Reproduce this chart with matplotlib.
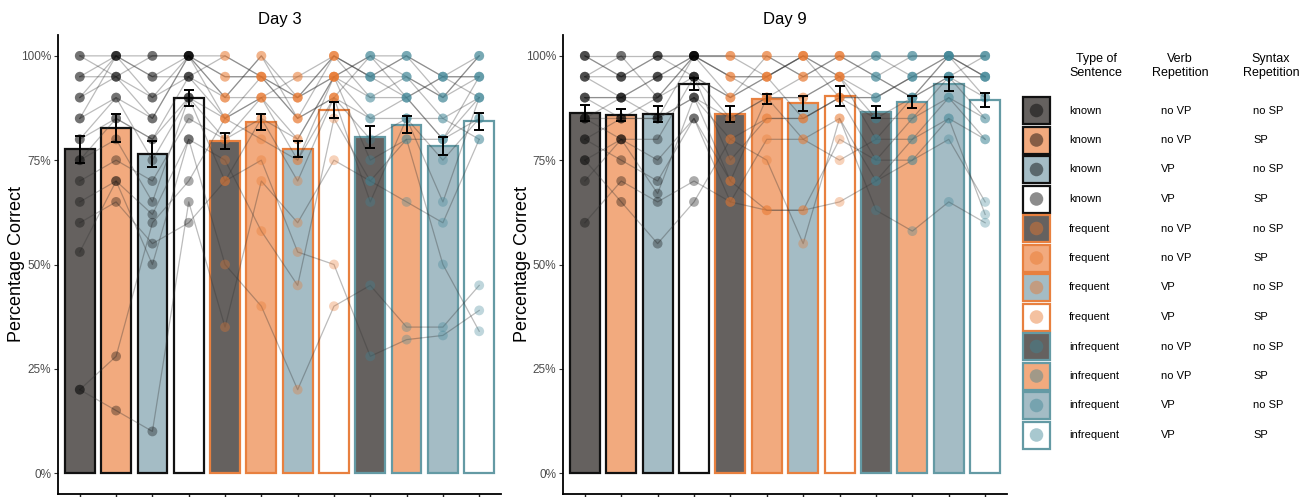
import matplotlib.pyplot as plt
from matplotlib.patches import Rectangle
import numpy as np

plt.rcParams['font.family'] = ['Liberation Sans', 'DejaVu Sans']

# conditions (bar order)
sentence_type = ['known'] * 4 + ['frequent'] * 4 + ['infrequent'] * 4
verb_rep = ['no VP', 'no VP', 'VP', 'VP'] * 3
syntax_rep = ['no SP', 'SP', 'no SP', 'SP'] * 3

# bar means and standard errors (% correct)
day3_mean = [77.6, 82.7, 76.5, 90.0, 79.5, 84.2, 77.7, 87.0, 80.5, 83.5, 78.4, 84.3]
day3_se = [3.2, 3.4, 3.2, 1.9, 1.9, 1.9, 1.9, 1.9, 2.7, 2.0, 2.1, 2.1]
day9_mean = [86.3, 85.8, 86.0, 93.2, 86.0, 89.7, 88.6, 90.4, 86.5, 88.9, 93.3, 89.4]
day9_se = [1.9, 1.35, 1.9, 1.5, 1.9, 1.2, 1.7, 2.3, 1.5, 1.4, 1.7, 1.75]

# single participants, one row per participant, one value per condition
day3_subjects = [
    [20, 28, 60, 70, 85, 90, 75, 95, 100, 90, 80, 85],
    [20, 15, 10, 65, 35, 70, 60, 75, 70, 65, 60, 80],
    [53, 70, 50, 80, 50, 40, 20, 40, 45, 35, 35, 45],
    [60, 65, 55, 60, 70, 75, 53, 50, 28, 32, 33, 39],
    [65, 70, 62, 80, 75, 58, 45, 85, 70, 80, 50, 34],
    [70, 75, 70, 85, 80, 85, 70, 90, 80, 85, 65, 90],
    [75, 80, 65, 90, 80, 90, 80, 95, 85, 85, 75, 85],
    [80, 85, 80, 95, 85, 95, 85, 100, 90, 90, 80, 95],
    [85, 90, 85, 100, 90, 90, 90, 95, 95, 95, 90, 100],
    [85, 100, 90, 95, 100, 95, 90, 100, 95, 100, 95, 90],
    [90, 95, 85, 100, 90, 100, 85, 90, 100, 95, 90, 95],
    [90, 100, 95, 100, 95, 95, 90, 100, 95, 90, 95, 100],
    [95, 95, 100, 100, 85, 90, 95, 95, 100, 100, 95, 95],
    [95, 100, 95, 95, 90, 100, 90, 95, 90, 95, 85, 90],
    [100, 95, 90, 100, 95, 95, 85, 90, 85, 90, 95, 95],
    [100, 100, 100, 100, 100, 95, 95, 100, 95, 100, 90, 100],
    [80, 90, 75, 90, 70, 85, 80, 95, 75, 80, 80, 90],
    [75, 85, 80, 90, 85, 80, 75, 90, 65, 85, 85, 80],
]
day9_subjects = [
    [60, 70, 65, 70, 65, 63, 63, 65, 70, 75, 80, 65],
    [75, 65, 55, 65, 80, 75, 55, 85, 63, 58, 65, 60],
    [75, 80, 67, 90, 70, 63, 63, 80, 75, 75, 85, 62],
    [80, 75, 70, 85, 65, 80, 80, 75, 80, 80, 90, 80],
    [85, 80, 80, 95, 75, 85, 85, 90, 85, 85, 95, 85],
    [85, 85, 85, 90, 85, 90, 90, 95, 80, 90, 100, 90],
    [90, 90, 90, 100, 90, 95, 85, 90, 90, 95, 95, 95],
    [90, 85, 90, 95, 85, 90, 95, 95, 95, 90, 100, 100],
    [95, 90, 95, 100, 95, 95, 100, 90, 90, 95, 95, 100],
    [95, 100, 90, 100, 100, 100, 95, 100, 95, 100, 100, 95],
    [100, 95, 95, 100, 95, 95, 100, 95, 100, 95, 100, 100],
    [100, 100, 100, 100, 100, 100, 100, 100, 100, 100, 100, 100],
    [95, 95, 100, 95, 90, 100, 95, 100, 95, 90, 95, 95],
    [90, 90, 85, 100, 95, 90, 90, 95, 85, 90, 95, 90],
    [85, 90, 95, 95, 90, 95, 100, 95, 90, 95, 100, 95],
    [80, 85, 85, 90, 80, 85, 85, 90, 75, 85, 90, 85],
    [70, 80, 75, 85, 70, 90, 80, 85, 70, 80, 85, 80],
    [100, 95, 100, 100, 100, 95, 100, 100, 100, 100, 100, 95],
]

fill_by_rep = {('no VP', 'no SP'): '#65615f', ('no VP', 'SP'): '#f2aa7e',
               ('VP', 'no SP'): '#a4bcc5', ('VP', 'SP'): '#ffffff'}
edge_by_type = {'known': '#111111', 'frequent': '#e8803f', 'infrequent': '#649aa4'}
point_by_type = {'known': '#000000', 'frequent': '#e8772e', 'infrequent': '#3f8596'}

fills = [fill_by_rep[(v, s)] for v, s in zip(verb_rep, syntax_rep)]
edges = [edge_by_type[t] for t in sentence_type]
pcols = [point_by_type[t] for t in sentence_type]

fig = plt.figure(figsize=(13.12, 4.97), dpi=100)
ax3 = fig.add_axes([58 / 1312, 3 / 497, 443 / 1312, 459 / 497])
ax9 = fig.add_axes([563 / 1312, 3 / 497, 444 / 1312, 459 / 497])


def draw_panel(ax, means, ses, subjects, title, label_x):
    x = np.arange(1, 13)
    ax.bar(x, means, width=0.82, color=fills, edgecolor=edges, linewidth=1.6, zorder=1)
    data = np.array(subjects, dtype=float)
    for row in data:
        ax.plot(x, row, color='#333333', alpha=0.33, lw=0.9, zorder=2)
    for j in range(12):
        ax.scatter(np.full(len(data), x[j]), data[:, j], s=50, color=pcols[j],
                   alpha=0.33, edgecolors='none', zorder=3)
    ax.errorbar(x, means, yerr=ses, fmt='none', ecolor='black', elinewidth=1.4,
                capsize=3.5, capthick=1.4, zorder=4)
    ax.set_xlim(0.4, 12.6)
    ax.set_ylim(-5, 105)
    ax.set_xticks(x)
    ax.set_xticklabels([])
    ax.set_yticks([0, 25, 50, 75, 100])
    ax.set_yticklabels(['0%', '25%', '50%', '75%', '100%'], fontsize=8.5, color='#4d4d4d')
    ax.tick_params(axis='y', length=3, width=0.8, color='#333333', pad=2)
    ax.tick_params(axis='x', length=8, width=1, color='#222222')
    for s in ['top', 'right']:
        ax.spines[s].set_visible(False)
    for s in ['left', 'bottom']:
        ax.spines[s].set_linewidth(1.3)
    ax.set_title(title, fontsize=12, pad=8)
    ax.set_ylabel('Percentage Correct', fontsize=13)
    ax.yaxis.set_label_coords(label_x, 0.5)


draw_panel(ax3, day3_mean, day3_se, day3_subjects, 'Day 3', -0.074)
draw_panel(ax9, day9_mean, day9_se, day9_subjects, 'Day 9', -0.072)

# legend table
lax = fig.add_axes([1010 / 1312, 0, 302 / 1312, 1])
lax.set_xlim(1010, 1312)
lax.set_ylim(497, 0)
lax.axis('off')

lax.text(1096, 66, 'Type of\nSentence', ha='center', va='center', fontsize=9, linespacing=1.15)
lax.text(1180, 66, 'Verb\nRepetition', ha='center', va='center', fontsize=9, linespacing=1.15)
lax.text(1271, 66, 'Syntax\nRepetition', ha='center', va='center', fontsize=9, linespacing=1.15)

for i in range(12):
    yc = 110.5 + 29.5 * i
    lax.add_patch(Rectangle((1023, yc - 13.5), 27, 27, facecolor=fills[i],
                            edgecolor=edges[i], linewidth=1.6))
    lax.scatter([1036.5], [yc], s=95, color=pcols[i], alpha=0.45, edgecolors='none')
    lax.text(1069, yc, sentence_type[i], va='center', fontsize=8)
    lax.text(1161, yc, verb_rep[i], va='center', fontsize=8)
    lax.text(1253, yc, syntax_rep[i], va='center', fontsize=8)

fig.savefig('out.png', dpi=100)
